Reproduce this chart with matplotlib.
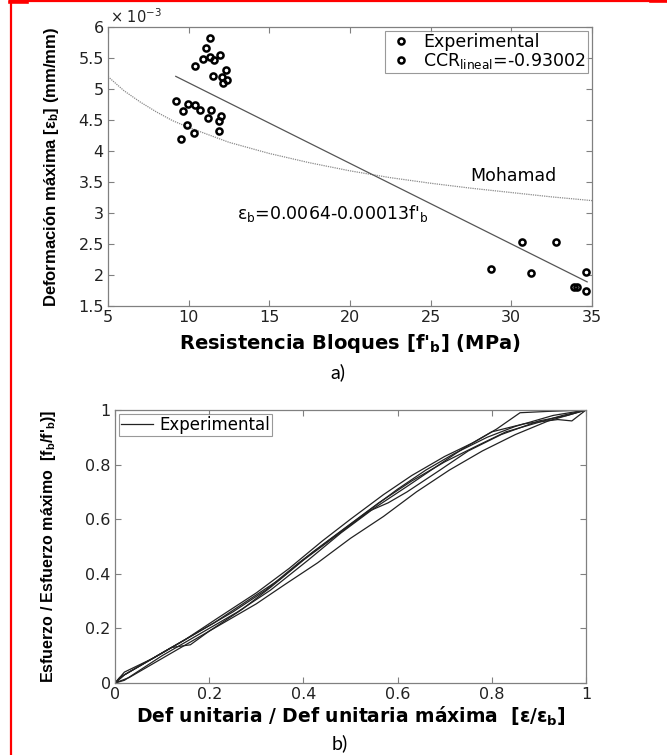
import matplotlib
matplotlib.use("Agg")
import matplotlib.pyplot as plt
from matplotlib.lines import Line2D
import numpy as np

plt.rcParams['font.family'] = ['DejaVu Sans']
plt.rcParams['mathtext.default'] = 'regular'
NARROW = ['Liberation Sans', 'DejaVu Sans']

# ---- a) max strain vs block strength (strain in 1e-3 mm/mm)
fb_exp = [9.24, 9.65, 9.96, 10.4, 10.7, 11.4, 11.2, 12.0, 11.9, 9.9, 10.3, 11.86, 9.5,
          11.3, 11.1, 10.4, 10.9, 11.3, 11.6, 11.96, 12.3, 11.5, 12.07, 12.4, 12.1,
          28.73, 30.66, 31.24, 32.78, 34.63, 33.9, 34.1, 34.63]
eps_exp = [4.80, 4.65, 4.76, 4.74, 4.66, 4.66, 4.53, 4.57, 4.49, 4.42, 4.29, 4.32, 4.19,
           5.82, 5.66, 5.37, 5.48, 5.51, 5.47, 5.55, 5.31, 5.21, 5.20, 5.14, 5.09,
           2.09, 2.53, 2.04, 2.53, 2.045, 1.80, 1.80, 1.75]

# linear fit shown on chart: eps_b = 0.0064 - 0.00013 fb
fit_a = 6.4
fit_b = -0.13
fit_range = [9.2, 34.7]

# Mohamad curve
moh_fb = [5, 6, 7, 8, 9, 10, 12.5, 15, 17.5, 20, 22.5, 25, 27.5, 30, 32.5, 35]
moh_eps = [5.20, 4.97, 4.79, 4.63, 4.49, 4.38, 4.14, 3.96, 3.81, 3.68, 3.57, 3.48, 3.40, 3.33, 3.26, 3.20]

# ---- b) normalised stress-strain curves
c1_x = [0, 0.02, 0.08, 0.15, 0.22, 0.30, 0.37, 0.44, 0.50, 0.57, 0.63, 0.70, 0.76, 0.81, 0.86, 0.92, 1.0]
c1_y = [0, 0.04, 0.09, 0.16, 0.24, 0.33, 0.42, 0.52, 0.60, 0.69, 0.76, 0.83, 0.88, 0.93, 0.99, 0.995, 1.0]
c2_x = [0, 0.01, 0.06, 0.12, 0.18, 0.25, 0.32, 0.39, 0.46, 0.53, 0.60, 0.66, 0.72, 0.79, 0.85, 0.93, 1.0]
c2_y = [0, 0.02, 0.07, 0.13, 0.19, 0.26, 0.34, 0.44, 0.53, 0.62, 0.71, 0.78, 0.84, 0.90, 0.94, 0.98, 1.0]
c3_x = [0, 0.02, 0.07, 0.12, 0.16, 0.20, 0.27, 0.33, 0.40, 0.47, 0.54, 0.58, 0.62, 0.69, 0.75, 0.82, 0.90, 0.96, 1.0]
c3_y = [0, 0.03, 0.08, 0.13, 0.14, 0.19, 0.27, 0.35, 0.45, 0.54, 0.63, 0.66, 0.70, 0.78, 0.85, 0.91, 0.96, 0.98, 1.0]
c4_x = [0, 0.03, 0.09, 0.16, 0.23, 0.30, 0.36, 0.43, 0.50, 0.57, 0.64, 0.71, 0.78, 0.85, 0.92, 1.0]
c4_y = [0, 0.02, 0.08, 0.15, 0.22, 0.29, 0.36, 0.44, 0.53, 0.61, 0.70, 0.78, 0.85, 0.91, 0.96, 1.0]
c5_x = [0, 0.02, 0.10, 0.18, 0.26, 0.33, 0.41, 0.48, 0.55, 0.62, 0.68, 0.74, 0.80, 0.87, 0.94, 0.97, 1.0]
c5_y = [0, 0.01, 0.10, 0.18, 0.26, 0.34, 0.45, 0.55, 0.64, 0.72, 0.79, 0.86, 0.92, 0.95, 0.965, 0.96, 1.0]
c6_x = [0, 0.02, 0.09, 0.15, 0.21, 0.28, 0.35, 0.42, 0.49, 0.56, 0.63, 0.70, 0.77, 0.83, 0.89, 0.95, 1.0]
c6_y = [0, 0.03, 0.10, 0.16, 0.22, 0.30, 0.38, 0.48, 0.57, 0.66, 0.74, 0.81, 0.87, 0.92, 0.95, 0.98, 1.0]
curves = [(c1_x, c1_y), (c2_x, c2_y), (c3_x, c3_y), (c4_x, c4_y), (c5_x, c5_y), (c6_x, c6_y)]

W, H = 667, 755
fig = plt.figure(figsize=(W / 100, H / 100), dpi=100)

def style_axes(ax):
    for s in ax.spines.values():
        s.set_color('#808080')
        s.set_linewidth(0.9)
    ax.tick_params(direction='in', top=True, right=True, length=4, width=0.8, pad=3,
                   color='#808080', labelsize=11.5, labelcolor='#222222')

# ---------------- a)
ax1 = fig.add_axes([108 / W, 1 - 306 / H, 484 / W, 279 / H])
style_axes(ax1)
ax1.plot(moh_fb, moh_eps, color='#8a8a8a', lw=0.9, ls=(0, (1, 0.8)))
xf = np.array(fit_range)
ax1.plot(xf, fit_a + fit_b * xf, color='#555555', lw=0.9)
ax1.plot(fb_exp, eps_exp, 'o', mfc='none', mec='black', mew=1.8, ms=4.4, ls='none')
ax1.set_xlim(5, 35)
ax1.set_ylim(1.5, 6)
ax1.set_xticks(np.arange(5, 36, 5))
ax1.set_yticks(np.arange(1.5, 6.01, 0.5))
ax1.set_yticklabels(['1.5', '2', '2.5', '3', '3.5', '4', '4.5', '5', '5.5', '6'])
ax1.text(0.004, 1.003, r'$\times$ 10$^{-3}$', transform=ax1.transAxes, fontsize=10.5,
         ha='left', va='bottom', color='#222222')
ax1.set_xlabel(r"Resistencia Bloques [f$'_{b}$] (MPa)", fontsize=14, fontweight='bold')
ax1.set_ylabel(r"Deformación máxima [$\varepsilon_{b}$] (mm/mm)", fontsize=12,
               fontweight='bold', family=NARROW)
ax1.xaxis.set_label_coords(0.5, -0.093)
ax1.yaxis.set_label_coords(-0.097, 0.5)
ax1.text(13.0, 2.99, r"$\varepsilon_{b}$=0.0064-0.00013f$'_{b}$", fontsize=12.5, va='center', ha='left')
ax1.text(27.44, 3.6, 'Mohamad', fontsize=12.5, va='center', ha='left')
h1 = Line2D([], [], marker='o', mfc='none', mec='black', mew=1.8, ms=4.4, ls='none')
h2 = Line2D([], [], marker='o', mfc='none', mec='black', mew=1.8, ms=4.4, ls='none')
leg1 = ax1.legend([h1, h2], ['Experimental', r'CCR$_{lineal}$=-0.93002'], loc='upper right',
                  fontsize=12.5, frameon=True, fancybox=False, borderaxespad=0.25,
                  handletextpad=0.5, borderpad=0.1, labelspacing=0.0, handlelength=1.6)
leg1.get_frame().set_edgecolor('#808080')
leg1.get_frame().set_linewidth(0.8)

fig.text(338 / W, 1 - 372 / H, 'a)', fontsize=14, family=['Lato', 'DejaVu Sans'],
         ha='center', va='center')

# ---------------- b)
ax2 = fig.add_axes([115 / W, 1 - 683 / H, 471 / W, 273 / H])
style_axes(ax2)
for i, (cx, cy) in enumerate(curves):
    ax2.plot(cx, cy, color='#222222', lw=0.9, label='Experimental' if i == 0 else None)
ax2.set_xlim(0, 1)
ax2.set_ylim(0, 1)
ax2.set_xticks(np.arange(0, 1.01, 0.2))
ax2.set_yticks(np.arange(0, 1.01, 0.2))
ax2.set_xticklabels(['0', '0.2', '0.4', '0.6', '0.8', '1'])
ax2.set_yticklabels(['0', '0.2', '0.4', '0.6', '0.8', '1'])
ax2.set_xlabel(r"Def unitaria / Def unitaria máxima  [$\varepsilon/\varepsilon_{b}$]",
               fontsize=13.5, fontweight='bold')
ax2.set_ylabel(r"Esfuerzo / Esfuerzo máximo  [f$_{b}$/f$'_{b}$)]", fontsize=11.5,
               fontweight='bold', family=NARROW)
ax2.xaxis.set_label_coords(0.5, -0.08)
ax2.yaxis.set_label_coords(-0.12, 0.5)
leg2 = ax2.legend(loc='upper left', fontsize=12, frameon=True, fancybox=False,
                  borderaxespad=0.25, borderpad=0.1, handlelength=1.9, handletextpad=0.4)
leg2.get_frame().set_edgecolor('#808080')
leg2.get_frame().set_linewidth(0.8)

fig.text(340 / W, 1 - 743 / H, 'b)', fontsize=14, family=['Lato', 'DejaVu Sans'],
         ha='center', va='center')

# red frame (cropped rectangle: left and top edges)
fig.add_artist(Line2D([11 / W, 11 / W], [0, 1], transform=fig.transFigure, color='red', lw=1.6))
fig.add_artist(Line2D([10 / W, 1], [1 - 1 / H, 1 - 1 / H], transform=fig.transFigure, color='red', lw=1.6))
fig.add_artist(Line2D([10 / W, 27 / W], [1 - 1.5 / H, 1 - 1.5 / H], transform=fig.transFigure, color='red', lw=2.6))
fig.add_artist(Line2D([651 / W, 1], [1 - 1 / H, 1 - 1 / H], transform=fig.transFigure, color='red', lw=2.6))

fig.savefig('out.png', dpi=100)
